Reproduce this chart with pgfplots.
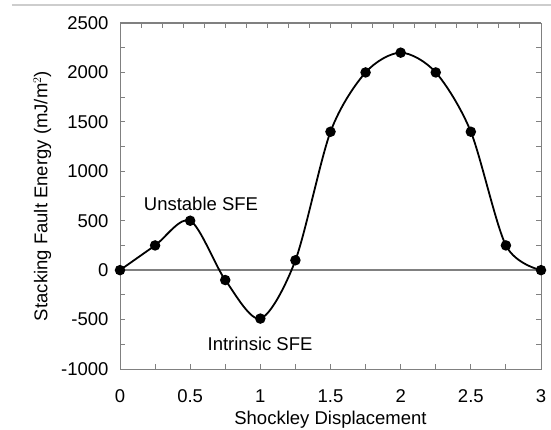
\documentclass[border=0pt]{standalone}
\usepackage{pgfplots}
\pgfplotsset{compat=1.18}
\usepackage{fontspec}
\setmainfont{Liberation Sans}

\definecolor{axisgray}{RGB}{128,128,128}
\definecolor{rulegray}{RGB}{205,205,205}

\begin{document}
\begin{tikzpicture}[x=1bp,y=1bp]
\useasboundingbox (-120,-60) rectangle (431,369);
\draw[rulegray, line width=2bp] (-108,364) -- (431,364);

\pgfplotsset{
  common/.style={
    at={(0,0)}, anchor=south west,
    scale only axis, width=421bp, height=346bp,
    xmin=0, xmax=3, ymin=-1000, ymax=2500,
    axis line style={axisgray, line width=1bp},
    tick style={axisgray, line width=1bp},
    major tick length=5bp, minor tick length=5bp,
    tick align=inside,
    font=\fontsize{18.5bp}{22bp}\selectfont,
  },
}

% top edge with its own tick spacing
\begin{axis}[common,
  axis x line*=top, axis y line=none,
  xtick={0,0.15,...,2.9}, xticklabels={},
]
\end{axis}

\begin{axis}[common,
  xtick pos=bottom, ytick pos=both,
  xtick={0,0.5,...,3}, minor xtick={0.25,0.75,...,2.75},
  ytick={-1000,-500,...,2500}, minor ytick={-750,-250,...,2250},
  xticklabels={0,0.5,1,1.5,2,2.5,3},
  yticklabel style={/pgf/number format/fixed, /pgf/number format/1000 sep={}},
  /pgf/number format/assume math mode=true,
  xticklabel style={yshift=-17bp},
  yticklabel style={xshift=-8bp},
  xlabel={Shockley Displacement},
  ylabel={Stacking Fault Energy (mJ/m$^2$)},
  xlabel style={yshift=-2bp},
  ylabel style={yshift=3bp},
  clip=false,
]
\addplot[axisgray, line width=1.5bp] coordinates {(0,0) (3,0)};
\addplot[black, line width=1.8bp, smooth, tension=0.5,
  mark=*, mark size=4.3bp, mark options={fill=black}]
  coordinates {
  (0,0) (0.25,250) (0.5,500) (0.75,-100) (1,-490) (1.25,100)
  (1.5,1400) (1.75,2000) (2,2200) (2.25,2000) (2.5,1400)
  (2.75,250) (3,0)
  };
\node at (axis cs:0.577,668) {Unstable SFE};
\node at (axis cs:0.998,-749) {Intrinsic SFE};
\end{axis}
\end{tikzpicture}
\end{document}
